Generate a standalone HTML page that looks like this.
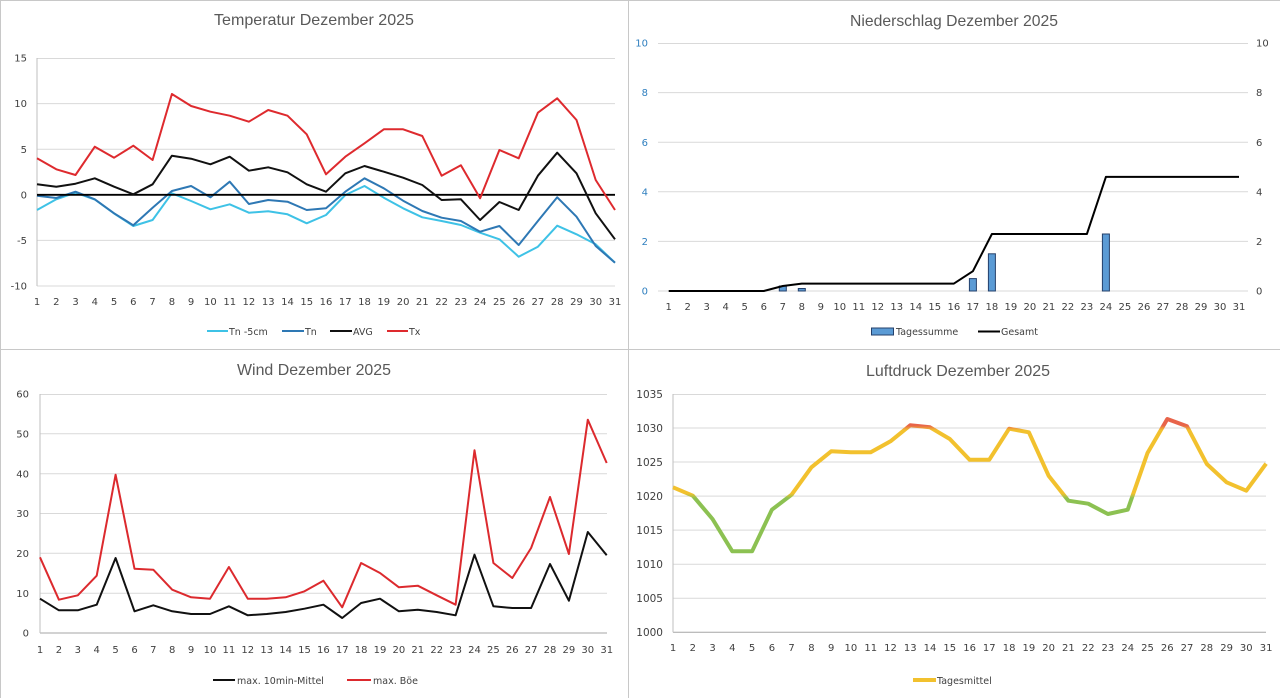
<!DOCTYPE html>
<html><head><meta charset="utf-8"><style>
html,body{margin:0;padding:0;background:#fff;}
svg{display:block;}
.t{font-family:"Liberation Sans",Arial,sans-serif;font-size:16px;fill:#595959;}
.k{font-family:"DejaVu Sans",Verdana,sans-serif;font-size:10px;fill:#404040;}
.kb{font-family:"DejaVu Sans",Verdana,sans-serif;font-size:10px;fill:#2f7fbf;}
.lg{font-family:"DejaVu Sans",Verdana,sans-serif;font-size:9.5px;fill:#404040;}
.g{stroke:#d9d9d9;stroke-width:1;}
.ax{stroke:#bfbfbf;stroke-width:1;}
</style></head><body>
<svg width="1280" height="698" viewBox="0 0 1280 698" xmlns="http://www.w3.org/2000/svg">
<defs>
<linearGradient id="pg" gradientUnits="userSpaceOnUse" x1="0" y1="394" x2="0" y2="632">
<stop offset="0" stop-color="#e8644a"/>
<stop offset="0.132" stop-color="#e8644a"/>
<stop offset="0.152" stop-color="#f2c12e"/>
<stop offset="0.418" stop-color="#f2c12e"/>
<stop offset="0.438" stop-color="#8cc152"/>
<stop offset="1" stop-color="#8cc152"/>
</linearGradient>
</defs>
<rect width="1280" height="698" fill="#fff"/>
<!-- panel borders -->
<line x1="0" y1="0.5" x2="1280" y2="0.5" stroke="#c8c8c8"/>
<line x1="0.5" y1="0" x2="0.5" y2="698" stroke="#c8c8c8"/>
<line x1="628.5" y1="0" x2="628.5" y2="698" stroke="#c8c8c8"/>
<line x1="0" y1="349.5" x2="1280" y2="349.5" stroke="#c8c8c8"/>

<!-- ========== TEMPERATUR ========== -->
<text class="t" x="214" y="25" textLength="200" lengthAdjust="spacingAndGlyphs">Temperatur Dezember 2025</text>
<line class="g" x1="37" y1="58.5" x2="615" y2="58.5"/>
<line class="g" x1="37" y1="103.6" x2="615" y2="103.6"/>
<line class="g" x1="37" y1="149.2" x2="615" y2="149.2"/>
<line class="g" x1="37" y1="240.4" x2="615" y2="240.4"/>
<line class="g" x1="37" y1="286" x2="615" y2="286"/>
<line class="ax" x1="37" y1="58" x2="37" y2="286"/>
<g class="k" text-anchor="end">
<text x="27" y="61.6">15</text>
<text x="27" y="107.2">10</text>
<text x="27" y="152.8">5</text>
<text x="27" y="198.4">0</text>
<text x="27" y="244">-5</text>
<text x="27" y="289.6">-10</text>
</g>
<g class="k" text-anchor="middle">
<text x="37" y="305">1</text><text x="56.3" y="305">2</text><text x="75.5" y="305">3</text><text x="94.8" y="305">4</text><text x="114.1" y="305">5</text><text x="133.3" y="305">6</text><text x="152.6" y="305">7</text><text x="171.9" y="305">8</text><text x="191.1" y="305">9</text><text x="210.4" y="305">10</text><text x="229.7" y="305">11</text><text x="248.9" y="305">12</text><text x="268.2" y="305">13</text><text x="287.5" y="305">14</text><text x="306.7" y="305">15</text><text x="326" y="305">16</text><text x="345.3" y="305">17</text><text x="364.5" y="305">18</text><text x="383.8" y="305">19</text><text x="403.1" y="305">20</text><text x="422.3" y="305">21</text><text x="441.6" y="305">22</text><text x="460.9" y="305">23</text><text x="480.1" y="305">24</text><text x="499.4" y="305">25</text><text x="518.7" y="305">26</text><text x="537.9" y="305">27</text><text x="557.2" y="305">28</text><text x="576.5" y="305">29</text><text x="595.7" y="305">30</text><text x="615" y="305">31</text>
</g>
<g fill="none" stroke-width="2" stroke-linejoin="round">
<polyline stroke="#3ec2e6" points="37,210 56.3,199.3 75.5,192.7 94.8,199.5 114.1,213.5 133.3,226 152.6,220 171.9,193.3 191.1,201 210.4,209.3 229.7,204.3 248.9,212.7 268.2,211.3 287.5,214.3 306.7,223.3 326,215 345.3,195 364.5,186 383.8,197.7 403.1,208.3 422.3,217.3 441.6,221 460.9,225 480.1,232.7 499.4,239.3 518.7,256.7 537.9,246.7 557.2,225.7 576.5,234.3 595.7,244.3 615,262.7"/>
<polyline stroke="#2e78b4" points="37,195.7 56.3,198 75.5,191.7 94.8,199.3 114.1,213.3 133.3,225.3 152.6,207.7 171.9,191 191.1,186 210.4,197.3 229.7,181.7 248.9,204 268.2,200 287.5,201.7 306.7,210 326,208.3 345.3,191.7 364.5,178.3 383.8,188.3 403.1,200.7 422.3,211 441.6,217.7 460.9,221 480.1,231.7 499.4,226 518.7,245 537.9,221 557.2,197.3 576.5,216.7 595.7,246 615,262.7"/>
<line x1="37" y1="194.8" x2="615" y2="194.8" stroke="#000" stroke-width="1.8"/>
<polyline stroke="#111" points="37,184.3 56.3,186.7 75.5,183.7 94.8,178.3 114.1,186.7 133.3,194.3 152.6,184.3 171.9,155.7 191.1,158.7 210.4,164.3 229.7,156.7 248.9,170.7 268.2,167.3 287.5,172.3 306.7,184.3 326,191.7 345.3,173.3 364.5,166 383.8,171.7 403.1,177.7 422.3,185 441.6,200 460.9,199.3 480.1,220 499.4,202 518.7,210 537.9,175.7 557.2,152.7 576.5,173.3 595.7,213.3 615,239.3"/>
<polyline stroke="#de2a2e" points="37,158.3 56.3,169.3 75.5,175 94.8,146.7 114.1,157.7 133.3,145.7 152.6,160 171.9,94 191.1,106 210.4,111.7 229.7,115.7 248.9,121.7 268.2,110 287.5,115.7 306.7,134.3 326,174.3 345.3,156.7 364.5,143.3 383.8,129.3 403.1,129.3 422.3,136 441.6,175.7 460.9,165.3 480.1,198.3 499.4,150 518.7,158.3 537.9,112.7 557.2,98.3 576.5,120 595.7,180 615,210"/>
</g>
<g stroke-width="2">
<line x1="207" y1="331" x2="228" y2="331" stroke="#3ec2e6"/>
<line x1="282" y1="331" x2="304" y2="331" stroke="#2e78b4"/>
<line x1="330" y1="331" x2="352" y2="331" stroke="#111"/>
<line x1="387" y1="331" x2="408" y2="331" stroke="#de2a2e"/>
</g>
<g class="lg">
<text x="229" y="335">Tn -5cm</text>
<text x="305" y="335">Tn</text>
<text x="353" y="335">AVG</text>
<text x="409" y="335">Tx</text>
</g>

<!-- ========== NIEDERSCHLAG ========== -->
<text class="t" x="850" y="26" textLength="208" lengthAdjust="spacingAndGlyphs">Niederschlag Dezember 2025</text>
<line class="g" x1="658" y1="43.5" x2="1248" y2="43.5"/>
<line class="g" x1="658" y1="92.6" x2="1248" y2="92.6"/>
<line class="g" x1="658" y1="142.2" x2="1248" y2="142.2"/>
<line class="g" x1="658" y1="191.8" x2="1248" y2="191.8"/>
<line class="g" x1="658" y1="241.4" x2="1248" y2="241.4"/>
<line class="g" x1="658" y1="291" x2="1248" y2="291"/>
<g class="kb" text-anchor="end">
<text x="648" y="46.6">10</text>
<text x="648" y="96.2">8</text>
<text x="648" y="145.8">6</text>
<text x="648" y="195.4">4</text>
<text x="648" y="245">2</text>
<text x="648" y="294.6">0</text>
</g>
<g class="k">
<text x="1256" y="46.6">10</text>
<text x="1256" y="96.2">8</text>
<text x="1256" y="145.8">6</text>
<text x="1256" y="195.4">4</text>
<text x="1256" y="245">2</text>
<text x="1256" y="294.6">0</text>
</g>
<g class="k" text-anchor="middle">
<text x="668.7" y="310">1</text><text x="687.7" y="310">2</text><text x="706.7" y="310">3</text><text x="725.7" y="310">4</text><text x="744.7" y="310">5</text><text x="763.8" y="310">6</text><text x="782.8" y="310">7</text><text x="801.8" y="310">8</text><text x="820.8" y="310">9</text><text x="839.8" y="310">10</text><text x="858.8" y="310">11</text><text x="877.8" y="310">12</text><text x="896.8" y="310">13</text><text x="915.8" y="310">14</text><text x="934.8" y="310">15</text><text x="953.9" y="310">16</text><text x="972.9" y="310">17</text><text x="991.9" y="310">18</text><text x="1010.9" y="310">19</text><text x="1029.9" y="310">20</text><text x="1048.9" y="310">21</text><text x="1067.9" y="310">22</text><text x="1086.9" y="310">23</text><text x="1105.9" y="310">24</text><text x="1124.9" y="310">25</text><text x="1144" y="310">26</text><text x="1163" y="310">27</text><text x="1182" y="310">28</text><text x="1201" y="310">29</text><text x="1220" y="310">30</text><text x="1239" y="310">31</text>
</g>
<g fill="#5b9bd5" stroke="#24406b" stroke-width="1">
<rect x="779.3" y="286" width="7" height="5"/>
<rect x="798.3" y="288.5" width="7" height="2.5"/>
<rect x="969.4" y="278.6" width="7" height="12.4"/>
<rect x="988.4" y="253.8" width="7" height="37.2"/>
<rect x="1102.4" y="234" width="7" height="57"/>
</g>
<polyline fill="none" stroke="#000" stroke-width="2" stroke-linejoin="round" points="668.7,291 763.8,291 782.8,286 801.8,283.6 953.9,283.6 972.9,271.2 991.9,234 1086.9,234 1105.9,176.9 1239,176.9"/>
<rect x="871.5" y="328" width="22" height="7" fill="#5b9bd5" stroke="#24406b" stroke-width="1"/>
<text class="lg" x="896" y="335">Tagessumme</text>
<line x1="978" y1="331.5" x2="1000" y2="331.5" stroke="#000" stroke-width="2"/>
<text class="lg" x="1001" y="335">Gesamt</text>

<!-- ========== WIND ========== -->
<text class="t" x="237" y="375" textLength="154" lengthAdjust="spacingAndGlyphs">Wind Dezember 2025</text>
<line class="g" x1="40" y1="394.5" x2="607" y2="394.5"/>
<line class="g" x1="40" y1="433.8" x2="607" y2="433.8"/>
<line class="g" x1="40" y1="473.7" x2="607" y2="473.7"/>
<line class="g" x1="40" y1="513.5" x2="607" y2="513.5"/>
<line class="g" x1="40" y1="553.3" x2="607" y2="553.3"/>
<line class="g" x1="40" y1="593.2" x2="607" y2="593.2"/>
<line x1="40" y1="633" x2="607" y2="633" stroke="#a6a6a6"/>
<line class="ax" x1="40" y1="394" x2="40" y2="633"/>
<g class="k" text-anchor="end">
<text x="29" y="397.6">60</text>
<text x="29" y="437.4">50</text>
<text x="29" y="477.3">40</text>
<text x="29" y="517.1">30</text>
<text x="29" y="556.9">20</text>
<text x="29" y="596.8">10</text>
<text x="29" y="636.6">0</text>
</g>
<g class="k" text-anchor="middle">
<text x="40" y="653">1</text><text x="58.9" y="653">2</text><text x="77.8" y="653">3</text><text x="96.7" y="653">4</text><text x="115.6" y="653">5</text><text x="134.5" y="653">6</text><text x="153.3" y="653">7</text><text x="172.2" y="653">8</text><text x="191.1" y="653">9</text><text x="210" y="653">10</text><text x="228.9" y="653">11</text><text x="247.8" y="653">12</text><text x="266.7" y="653">13</text><text x="285.6" y="653">14</text><text x="304.5" y="653">15</text><text x="323.4" y="653">16</text><text x="342.2" y="653">17</text><text x="361.1" y="653">18</text><text x="380" y="653">19</text><text x="398.9" y="653">20</text><text x="417.8" y="653">21</text><text x="436.7" y="653">22</text><text x="455.6" y="653">23</text><text x="474.5" y="653">24</text><text x="493.4" y="653">25</text><text x="512.3" y="653">26</text><text x="531.1" y="653">27</text><text x="550" y="653">28</text><text x="568.9" y="653">29</text><text x="587.8" y="653">30</text><text x="606.7" y="653">31</text>
</g>
<g fill="none" stroke-width="2" stroke-linejoin="round">
<polyline stroke="#111" points="40,598.7 58.9,610.3 77.8,610.3 96.7,604.7 115.6,558 134.5,611.3 153.3,605.3 172.2,611.3 191.1,614 210,614 228.9,606.3 247.8,615.3 266.7,614 285.6,612 304.5,608.7 323.4,604.7 342.2,618 361.1,603 380,598.7 398.9,611.3 417.8,609.7 436.7,612 455.6,615.3 474.5,554.7 493.4,606.3 512.3,608 531.1,608 550,564 568.9,600.7 587.8,532 606.7,555.3"/>
<polyline stroke="#dc2a2e" points="40,557.3 58.9,599.7 77.8,595.3 96.7,575.7 115.6,474.7 134.5,568.7 153.3,569.7 172.2,589.7 191.1,597.3 210,598.7 228.9,567 247.8,598.7 266.7,598.7 285.6,597.3 304.5,591.3 323.4,580.7 342.2,607.3 361.1,563 380,573 398.9,587.3 417.8,585.7 436.7,595.3 455.6,604.7 474.5,450.3 493.4,563 512.3,578 531.1,548 550,497 568.9,554 587.8,419.7 606.7,463"/>
</g>
<line x1="213" y1="680" x2="235" y2="680" stroke="#111" stroke-width="2"/>
<text class="lg" x="237" y="684">max. 10min-Mittel</text>
<line x1="347" y1="680" x2="371" y2="680" stroke="#dc2a2e" stroke-width="2"/>
<text class="lg" x="373" y="684">max. Böe</text>

<!-- ========== LUFTDRUCK ========== -->
<text class="t" x="866" y="376" textLength="184" lengthAdjust="spacingAndGlyphs">Luftdruck Dezember 2025</text>
<line class="g" x1="673" y1="394.5" x2="1266" y2="394.5"/>
<line class="g" x1="673" y1="428" x2="1266" y2="428"/>
<line class="g" x1="673" y1="462" x2="1266" y2="462"/>
<line class="g" x1="673" y1="496.1" x2="1266" y2="496.1"/>
<line class="g" x1="673" y1="530.1" x2="1266" y2="530.1"/>
<line class="g" x1="673" y1="564.2" x2="1266" y2="564.2"/>
<line class="g" x1="673" y1="598.2" x2="1266" y2="598.2"/>
<line x1="673" y1="632.3" x2="1266" y2="632.3" stroke="#a6a6a6"/>
<line class="ax" x1="673" y1="394" x2="673" y2="632.3"/>
<g class="k" text-anchor="end" style="font-size:10.5px">
<text x="663" y="397.8">1035</text>
<text x="663" y="431.8">1030</text>
<text x="663" y="465.8">1025</text>
<text x="663" y="499.9">1020</text>
<text x="663" y="533.9">1015</text>
<text x="663" y="568">1010</text>
<text x="663" y="602">1005</text>
<text x="663" y="636.1">1000</text>
</g>
<g class="k" text-anchor="middle">
<text x="673" y="651">1</text><text x="692.8" y="651">2</text><text x="712.5" y="651">3</text><text x="732.3" y="651">4</text><text x="752.1" y="651">5</text><text x="771.9" y="651">6</text><text x="791.6" y="651">7</text><text x="811.4" y="651">8</text><text x="831.2" y="651">9</text><text x="850.9" y="651">10</text><text x="870.7" y="651">11</text><text x="890.5" y="651">12</text><text x="910.2" y="651">13</text><text x="930" y="651">14</text><text x="949.8" y="651">15</text><text x="969.6" y="651">16</text><text x="989.3" y="651">17</text><text x="1009.1" y="651">18</text><text x="1028.9" y="651">19</text><text x="1048.6" y="651">20</text><text x="1068.4" y="651">21</text><text x="1088.2" y="651">22</text><text x="1107.9" y="651">23</text><text x="1127.7" y="651">24</text><text x="1147.5" y="651">25</text><text x="1167.3" y="651">26</text><text x="1187" y="651">27</text><text x="1206.8" y="651">28</text><text x="1226.6" y="651">29</text><text x="1246.3" y="651">30</text><text x="1266.1" y="651">31</text>
</g>
<polyline fill="none" stroke="url(#pg)" stroke-width="4" stroke-linejoin="round" points="673,487.3 692.8,495.7 712.5,519 732.3,551.3 752.1,551.3 771.9,509.7 791.6,494.7 811.4,467.3 831.2,451.3 850.9,452.3 870.7,452.3 890.5,441.3 910.2,425.3 930,427.3 949.8,439 969.6,459.7 989.3,459.7 1009.1,428.7 1028.9,432.3 1048.6,475.7 1068.4,500.7 1088.2,503.7 1107.9,514 1127.7,509.7 1147.5,453 1167.3,419 1187,426.3 1206.8,464 1226.6,482.3 1246.3,490.7 1266.1,463.7"/>
<line x1="913" y1="680" x2="936" y2="680" stroke="#f2c12e" stroke-width="4"/>
<text class="lg" x="937" y="684">Tagesmittel</text>
</svg>
</body></html>
